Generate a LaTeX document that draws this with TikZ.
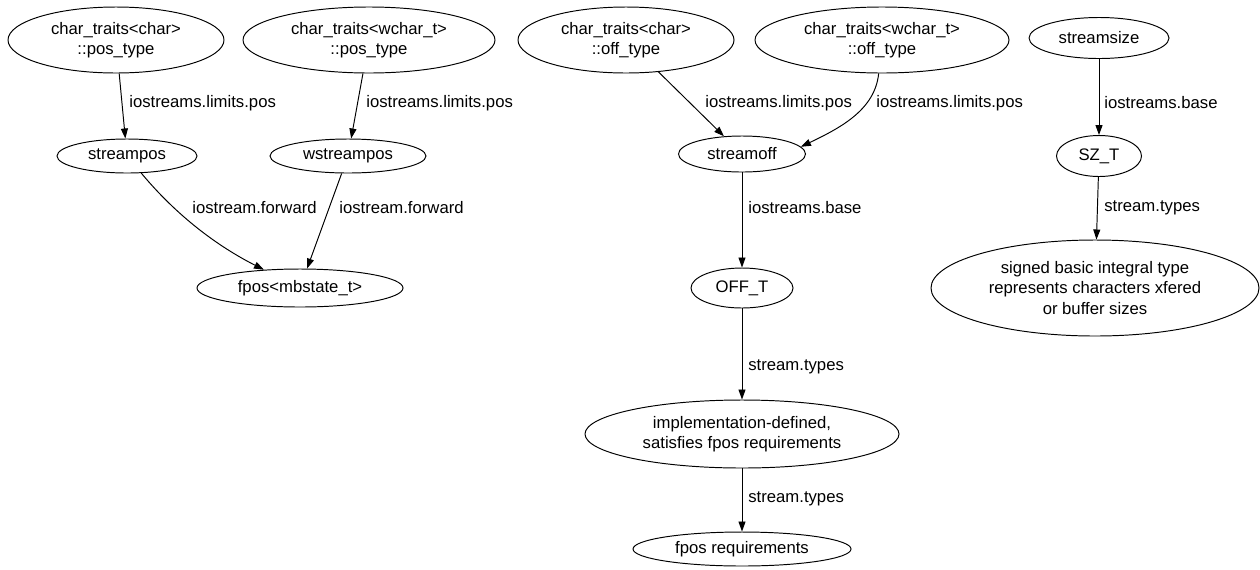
\documentclass[tikz,border=0pt]{standalone}
\usepackage{fontspec}
\setmainfont{Liberation Sans}
\usetikzlibrary{shapes.geometric,arrows.meta}
\tikzset{
  el/.style 2 args={ellipse, draw, line width=0.55pt, minimum width=#1*0.02cm, minimum height=#2*0.02cm, inner sep=0pt, align=center, font=\fontsize{9.5pt}{11.4pt}\selectfont},
  lab/.style={anchor=west, inner sep=0pt, font=\fontsize{9.5pt}{11.4pt}\selectfont},
  edge/.style={line width=0.55pt, -{Triangle[length=5.7pt,width=4pt]}}
}
\begin{document}
\begin{tikzpicture}[x=0.02cm,y=-0.02cm]
\fill[white] (0,0) rectangle (1260,569);
\useasboundingbox (0,0) rectangle (1260,569);
% row 1
\node[el={216}{66}] (cpos) at (116,40) {char\_traits<char>\\::pos\_type};
\node[el={252}{66}] (wpos) at (369,40) {char\_traits<wchar\_t>\\::pos\_type};
\node[el={216}{66}] (coff) at (626,40) {char\_traits<char>\\::off\_type};
\node[el={254}{66}] (woff) at (882,40) {char\_traits<wchar\_t>\\::off\_type};
\node[el={140}{41}] (ssize) at (1099,38) {streamsize};
% row 2
\node[el={140}{34}] (spos) at (127,156) {streampos};
\node[el={156}{34}] (wspos) at (348,156) {wstreampos};
\node[el={127}{36}] (soff) at (742,154) {streamoff};
\node[el={85}{41}] (szt) at (1099,156) {SZ\_T};
% row 3
\node[el={206}{38}] (fpos) at (300,288) {fpos<mbstate\_t>};
\node[el={102}{40}] (offt) at (742,288) {OFF\_T};
\node[el={328}{96}] (sbit) at (1095,288) {signed basic integral type\\represents characters xfered\\or buffer sizes};
% row 4, 5
\node[el={314}{68}] (impl) at (742,434) {implementation-defined,\\satisfies fpos requirements};
\node[el={218}{34}] (freq) at (742,549) {fpos requirements};
% edges
\draw[edge] (cpos) -- (spos);
\draw[edge] (wpos) -- (wspos);
\draw[edge] (coff) -- (soff);
\draw[edge] (woff) .. controls (875,110) and (840,128) .. (soff.7);
\draw[edge] (ssize) -- (szt);
\draw[edge] (spos) .. controls (182,222) and (225,250) .. (fpos);
\draw[edge] (wspos) -- (fpos);
\draw[edge] (soff) -- (offt);
\draw[edge] (szt) -- (sbit);
\draw[edge] (offt) -- (impl);
\draw[edge] (impl) -- (freq);
% labels
\node[lab] (l1) at (129,103) {iostreams.limits.pos};
\node[lab] (l2) at (366,103) {iostreams.limits.pos};
\node[lab] (l3) at (705,103) {iostreams.limits.pos};
\node[lab] (l4) at (876,103) {iostreams.limits.pos};
\node[lab] (l5) at (1104,103) {iostreams.base};
\node[lab] (l6) at (192,208) {iostream.forward};
\node[lab] (l7) at (339,208) {iostream.forward};
\node[lab] (l8) at (748,208) {iostreams.base};
\node[lab] (l9) at (1104,208) {stream.types};
\node[lab] (l10) at (748,367) {stream.types};
\node[lab] (l11) at (748,499) {stream.types};
\end{tikzpicture}
\end{document}
